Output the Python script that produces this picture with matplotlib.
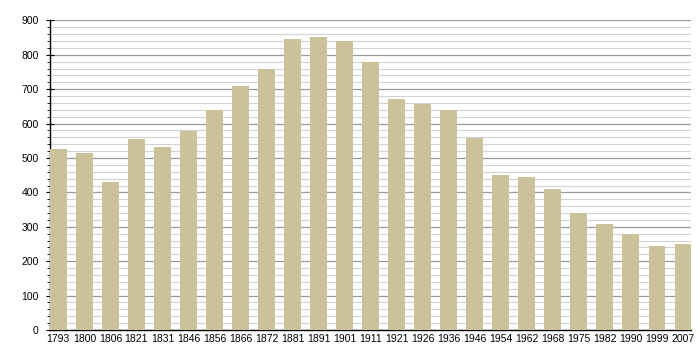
import matplotlib
matplotlib.use('Agg')
import matplotlib.pyplot as plt
from matplotlib.ticker import MultipleLocator

years = ['1793', '1800', '1806', '1821', '1831', '1846', '1856', '1866', '1872',
         '1881', '1891', '1901', '1911', '1921', '1926', '1936', '1946', '1954',
         '1962', '1968', '1975', '1982', '1990', '1999', '2007']
population = [527, 516, 429, 554, 533, 579, 640, 710, 759,
              845, 853, 839, 780, 672, 658, 640, 558, 452,
              446, 410, 340, 309, 278, 245, 251]

plt.rcParams['font.family'] = ['Liberation Sans', 'DejaVu Sans']

fig = plt.figure(figsize=(7, 3.6), dpi=100)
ax = fig.add_axes([0.0714, 0.0833, 0.916, 0.86])

w = 0.64
x = range(len(years))
ax.bar(x, population, width=w, color='#CBC29A', zorder=3)

ax.set_ylim(0, 900)
ax.set_xlim(-w / 2, len(years) - 1 + w / 2)
ax.yaxis.set_major_locator(MultipleLocator(100))
ax.yaxis.set_minor_locator(MultipleLocator(20))
ax.grid(which='major', axis='y', color='#9a9a9a', linewidth=0.9, zorder=0)
ax.grid(which='minor', axis='y', color='#d2d2d2', linewidth=0.8, zorder=0)

ax.set_xticks(list(x))
ax.set_xticklabels(years)
ax.tick_params(axis='x', length=0, labelsize=7.5, pad=3)
ax.tick_params(axis='y', which='major', direction='inout', length=6, width=0.8, labelsize=7.5, pad=5)
ax.tick_params(axis='y', which='minor', length=2, width=0.6)

for s in ['top', 'right']:
    ax.spines[s].set_visible(False)
ax.spines['left'].set_linewidth(1.0)
ax.spines['bottom'].set_linewidth(1.0)

fig.savefig('out.png', dpi=100)
